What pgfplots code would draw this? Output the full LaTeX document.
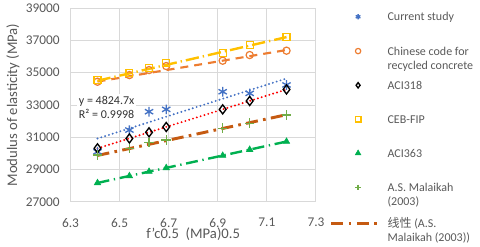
\documentclass[border=0pt]{standalone}
\usepackage{pgfplots}
\pgfplotsset{compat=1.18}
\usepackage{fontspec}
\setmainfont{Carlito}
\newfontfamily\cjk{Noto Sans CJK SC}
\definecolor{cblue}{HTML}{4472C4}
\definecolor{corange}{HTML}{ED7D31}
\definecolor{cyellow}{HTML}{FFC000}
\definecolor{cgreen}{HTML}{00B050}
\definecolor{clgreen}{HTML}{70AD47}
\definecolor{cdorange}{HTML}{C55A11}
\definecolor{cred}{HTML}{FF0000}
\definecolor{cgrid}{HTML}{D9D9D9}
\definecolor{ctext}{HTML}{595959}
\pgfplotsset{mkleg/.style={legend image code/.code={\path[draw=none] (0pt,-17.5pt) (34pt,7.25pt); \draw[##1,mark size=#1] plot coordinates {(20pt,3pt)};}},
  trleg/.style={legend image code/.code={\path[draw=none] (0pt,-17.5pt) (34pt,7.25pt); \draw[##1] (0pt,3pt) -- (34pt,3pt);}}}
\newcommand\legtext[1]{\parbox[t]{100pt}{\raggedright\baselineskip=10.5pt #1}}
\begin{document}
\begin{tikzpicture}
\useasboundingbox (-52.875pt,-33.75pt) rectangle (307.125pt,151.5pt);
\begin{axis}[
  at={(0pt,0pt)}, anchor=south west,
  width=184.1pt, height=145.5pt, scale only axis,
  xmin=6.3, xmax=7.3, ymin=27000, ymax=39000,
  scaled x ticks=false, scaled y ticks=false,
  xtick={6.3,6.5,6.7,6.9,7.1,7.3}, xticklabels={6.3,6.5,6.7,6.9,7.1,7.3},
  ytick={27000,29000,31000,33000,35000,37000,39000},
  yticklabels={27000,29000,31000,33000,35000,37000,39000},
  grid=major, major grid style={draw=cgrid, line width=0.75pt},
  axis line style={draw=cgrid, line width=0.75pt},
  major tick length=0pt,
  tick label style={font=\fontsize{10}{12}\selectfont, text=ctext},
  yticklabel style={xshift=-4.6pt},
  xticklabel style={yshift=-8.5pt},
  xlabel={f'c0.5\ \ (MPa)0.5}, ylabel={Modulus of elasticity (MPa)},
  label style={font=\fontsize{11}{13}\selectfont, text=ctext},
  xlabel style={at={(axis description cs:0.5,-0.165)}, anchor=center},
  ylabel style={at={(axis description cs:-0.234,0.5)}, anchor=center},
  legend style={at={(1.057,0.991)}, anchor=north west, draw=none, fill=none,
    inner sep=0pt, outer sep=0pt, row sep=0pt, column sep=5pt,
    cells={anchor=base west, inner sep=0pt, text=ctext, font=\fontsize{9}{10.5}\selectfont}},
]
% trend lines
\addplot[forget plot, cblue, line width=1.6pt, line cap=round, dash pattern=on 0pt off 3pt] coordinates {(6.41,30926) (7.18,34641)};
\addplot[forget plot, corange, line width=1.6pt, dash pattern=on 6pt off 4.5pt] coordinates {(6.41,34450) (7.18,36400)};
\addplot[forget plot, cred, line width=1.6pt, line cap=round, dash pattern=on 0pt off 3pt] coordinates {(6.41,30320) (7.18,33960)};
\addplot[forget plot, cyellow, line width=1.8pt, dash pattern=on 10pt off 3pt on 1pt off 3pt] coordinates {(6.41,34500) (7.18,37200)};
\addplot[forget plot, cgreen, line width=1.8pt, dash pattern=on 9pt off 3.5pt on 1pt off 3.5pt] coordinates {(6.41,28180) (7.18,30740)};
% data
\addplot[only marks, mark=asterisk, mark size=3.6pt, cblue, line width=1pt, mkleg=2pt] coordinates {
(6.41,30110) (6.54,31450) (6.62,32585) (6.69,32730) (6.92,33820) (7.03,33720) (7.18,34240)};
\addlegendentry{\legtext{Current study}}
\addplot[only marks, mark=o, mark size=2.7pt, corange, line width=0.9pt, mkleg=2pt] coordinates {
(6.41,34440) (6.54,34850) (6.62,35160) (6.69,35410) (6.92,35740) (7.03,36090) (7.18,36360)};
\addlegendentry{\legtext{Chinese code for\par recycled concrete}}
\addplot[only marks, mark=diamond, mark size=3.4pt, black, line width=1pt, mkleg=2pt] coordinates {
(6.41,30320) (6.54,30930) (6.62,31310) (6.69,31640) (6.92,32730) (7.03,33250) (7.18,33960)};
\addlegendentry{\legtext{ACI318}}
\addplot[only marks, mark=square, mark size=2.6pt, cyellow, line width=0.9pt, mkleg=2.2pt] coordinates {
(6.41,34545) (6.54,35000) (6.62,35270) (6.69,35580) (6.92,36230) (7.03,36710) (7.18,37220)};
\addlegendentry{\legtext{CEB-FIP}}
\addplot[only marks, mark=triangle*, mark size=2.8pt, cgreen, mkleg=2.4pt] coordinates {
(6.41,28180) (6.54,28610) (6.62,28880) (6.69,29110) (6.92,29870) (7.03,30240) (7.18,30740)};
\addlegendentry{\legtext{ACI363}}
\addplot[only marks, mark=+, mark size=3.6pt, clgreen, line width=0.9pt, mkleg=2.2pt] coordinates {
(6.41,29910) (6.54,30320) (6.62,30670) (6.69,30830) (6.92,31560) (7.03,31870) (7.18,32380)};
\addlegendentry{\legtext{A.S. Malaikah\par (2003)}}
\addplot[cdorange, line width=2.2pt, dash pattern=on 9pt off 4pt on 2pt off 4pt, trleg] coordinates {(6.41,29880) (7.18,32400)};
\addlegendentry{\legtext{{\cjk 线性} (A.S.\par Malaikah (2003))}}
\node[anchor=west, fill=white, align=left, inner sep=1.5pt, font=\fontsize{9}{10.5}\selectfont, text=black!80] at (axis cs:6.325,32875) {y = 4824.7x\\R² = 0.9998};
\end{axis}
\end{tikzpicture}
\end{document}
